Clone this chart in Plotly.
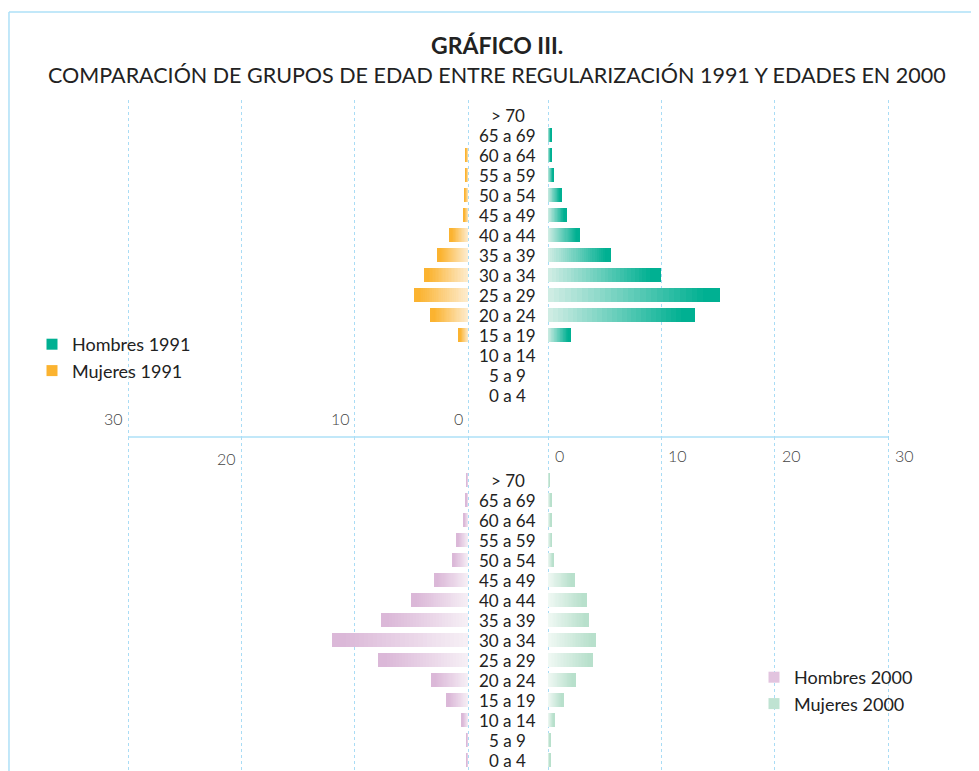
import plotly.graph_objects as go

W, H = 979, 771
OFF = 8  # page body margin of the browser


def PX(px):
    return (px - OFF) / W


def PY(py):
    return 1 - (py - OFF) / H


# ---------------- data ----------------
age_groups = ["0 a 4", "5 a 9", "10 a 14", "15 a 19", "20 a 24", "25 a 29", "30 a 34",
              "35 a 39", "40 a 44", "45 a 49", "50 a 54", "55 a 59", "60 a 64", "65 a 69", "> 70"]

hombres_1991 = [0, 0, 0, 2.0, 13.0, 15.2, 10.0, 5.6, 2.8, 1.6, 1.2, 0.5, 0.3, 0.3, 0]
mujeres_1991 = [0, 0, 0, 0.8, 3.3, 4.8, 3.9, 2.7, 1.6, 0.4, 0.35, 0.25, 0.25, 0, 0]
hombres_2000 = [0.15, 0.15, 0.55, 1.9, 3.2, 7.9, 12.0, 7.7, 5.0, 3.0, 1.4, 1.0, 0.4, 0.2, 0.15]
mujeres_2000 = [0.2, 0.2, 0.55, 1.35, 2.4, 4.0, 4.25, 3.6, 3.4, 2.3, 0.5, 0.35, 0.3, 0.3, 0.15]

top_tick_labels = [30, 10, 0]
bottom_left_tick_labels = [20]
bottom_right_tick_labels = [0, 10, 20, 30]
grid_values = [0, 10, 20, 30]

title = "<b>GRÁFICO III.</b>"
subtitle = "COMPARACIÓN DE GRUPOS DE EDAD ENTRE REGULARIZACIÓN 1991 Y EDADES EN 2000"

# ---------------- style ----------------
FONT = "Lato"
GRID = "#a9dcf5"
C_TEAL = ("#d2ede5", "#00b092")
C_ORANGE = ("#fdedd2", "#fbb330")
C_PINK = ("#f7f0f6", "#dbb8d8")
C_LGREEN = ("#f1f9f5", "#b8e0cc")
N_SEG = 30


def hex2rgb(h):
    h = h.lstrip("#")
    return tuple(int(h[i:i + 2], 16) for i in (0, 2, 4))


def mix(c1, c2, t):
    a, b = hex2rgb(c1), hex2rgb(c2)
    return "rgb(%d,%d,%d)" % tuple(round(a[i] + (b[i] - a[i]) * t) for i in range(3))


fig = go.Figure()


def add_gradient_bars(values, xa, ya, colors):
    for k in range(N_SEG):
        t = min(1.0, (k + 0.5) / N_SEG * 1.1)
        fig.add_trace(go.Bar(
            y=age_groups, x=[v / N_SEG for v in values], orientation="h",
            xaxis=xa, yaxis=ya, marker=dict(color=mix(colors[0], colors[1], t), line=dict(width=0)),
            showlegend=False, hoverinfo="skip"))


add_gradient_bars(mujeres_1991, "x", "y", C_ORANGE)
add_gradient_bars(hombres_1991, "x2", "y", C_TEAL)
add_gradient_bars(hombres_2000, "x3", "y2", C_PINK)
add_gradient_bars(mujeres_2000, "x4", "y2", C_LGREEN)

# legend entries
for name, col, lg in [("Hombres 1991", C_TEAL[1], "legend"), ("Mujeres 1991", C_ORANGE[1], "legend"),
                      ("Hombres 2000", "#e2c4df", "legend2"), ("Mujeres 2000", "#bfe3d2", "legend2")]:
    fig.add_trace(go.Scatter(x=[None], y=[None], mode="markers", name=name, legend=lg,
                             marker=dict(symbol="square", size=11, color=col),
                             xaxis="x", yaxis="y", hoverinfo="skip"))

# axes: 340 px for 30 units; pad 3 px each side so edge gridlines are drawn
PPU = 340 / 30
PAD = 3
pu = PAD / PPU
left_dom = [PX(128 - PAD), PX(468 + PAD)]
right_dom = [PX(548 - PAD), PX(888 + PAD)]
xcommon = dict(showticklabels=False, showgrid=True, gridcolor=GRID, griddash="dot", gridwidth=1,
               tickvals=grid_values, zeroline=False, showline=False, fixedrange=True)
ycommon = dict(type="category", categoryorder="array", categoryarray=age_groups,
               showticklabels=False, showgrid=False, zeroline=False, showline=False)

fig.update_layout(
    width=W, height=H, margin=dict(l=0, r=0, t=0, b=0),
    paper_bgcolor="white", plot_bgcolor="rgba(0,0,0,0)",
    barmode="stack", bargap=0.3,
    font=dict(family=FONT, size=16, color="#222"),
    xaxis=dict(domain=left_dom, range=[30 + pu, -pu], anchor="y", **xcommon),
    xaxis2=dict(domain=right_dom, range=[-pu, 30 + pu], anchor="y", **xcommon),
    xaxis3=dict(domain=left_dom, range=[30 + pu, -pu], anchor="y2", **xcommon),
    xaxis4=dict(domain=right_dom, range=[-pu, 30 + pu], anchor="y2", **xcommon),
    yaxis=dict(domain=[PY(437), PY(100)], range=[-2.1, 14.75], anchor="x", **ycommon),
    yaxis2=dict(domain=[PY(771), PY(437)], range=[-0.55, 16.15], anchor="x3", **ycommon),
    legend=dict(x=PX(32), y=PY(326), xanchor="left", yanchor="top", traceorder="normal",
                font=dict(family=FONT, size=18, color="#222"), bgcolor="rgba(0,0,0,0)"),
    legend2=dict(x=PX(754), y=PY(659), xanchor="left", yanchor="top", traceorder="normal",
                 font=dict(family=FONT, size=18, color="#222"), bgcolor="rgba(0,0,0,0)"),
)

ann = []
ann.append(dict(text=title, x=PX(497), y=PY(45), xref="paper", yref="paper", showarrow=False,
                xanchor="center", yanchor="middle", font=dict(family=FONT, size=23, color="#222")))
ann.append(dict(text=subtitle, x=PX(497), y=PY(75), xref="paper", yref="paper", showarrow=False,
                xanchor="center", yanchor="middle", font=dict(family=FONT, size=21.5, color="#222")))
for yr in ("y", "y2"):
    for cat in age_groups:
        ann.append(dict(text=cat, x=PX(508), y=cat, xref="paper", yref=yr, showarrow=False,
                        xanchor="center", yanchor="middle",
                        font=dict(family=FONT, size=17, color="#222")))
tick_font = dict(family=FONT, size=16, color="#444", weight=300)
for v in top_tick_labels:
    ann.append(dict(text=str(v), x=v, y=PY(418), xref="x", yref="paper", xanchor="right",
                    yanchor="middle", xshift=-3, showarrow=False, font=tick_font))
for v in bottom_left_tick_labels:
    ann.append(dict(text=str(v), x=v, y=PY(458), xref="x3", yref="paper", xanchor="right",
                    yanchor="middle", xshift=-3, showarrow=False, font=tick_font))
for v in bottom_right_tick_labels:
    ann.append(dict(text=str(v), x=v, y=PY(455), xref="x4", yref="paper", xanchor="left",
                    yanchor="middle", xshift=5, showarrow=False, font=tick_font))
fig.update_layout(annotations=ann)

line_col = "#aee0f7"
fig.update_layout(shapes=[
    dict(type="line", xref="paper", yref="paper", x0=PX(128), x1=PX(888), y0=PY(437), y1=PY(437),
         line=dict(color=line_col, width=1.5)),
    dict(type="line", xref="paper", yref="paper", x0=0.001, x1=1, y0=PY(12), y1=PY(12),
         line=dict(color=line_col, width=1.5)),
    dict(type="line", xref="paper", yref="paper", x0=0.001, x1=0.001, y0=0, y1=PY(12),
         line=dict(color=line_col, width=1.5)),
])

fig.write_html("out.html")
